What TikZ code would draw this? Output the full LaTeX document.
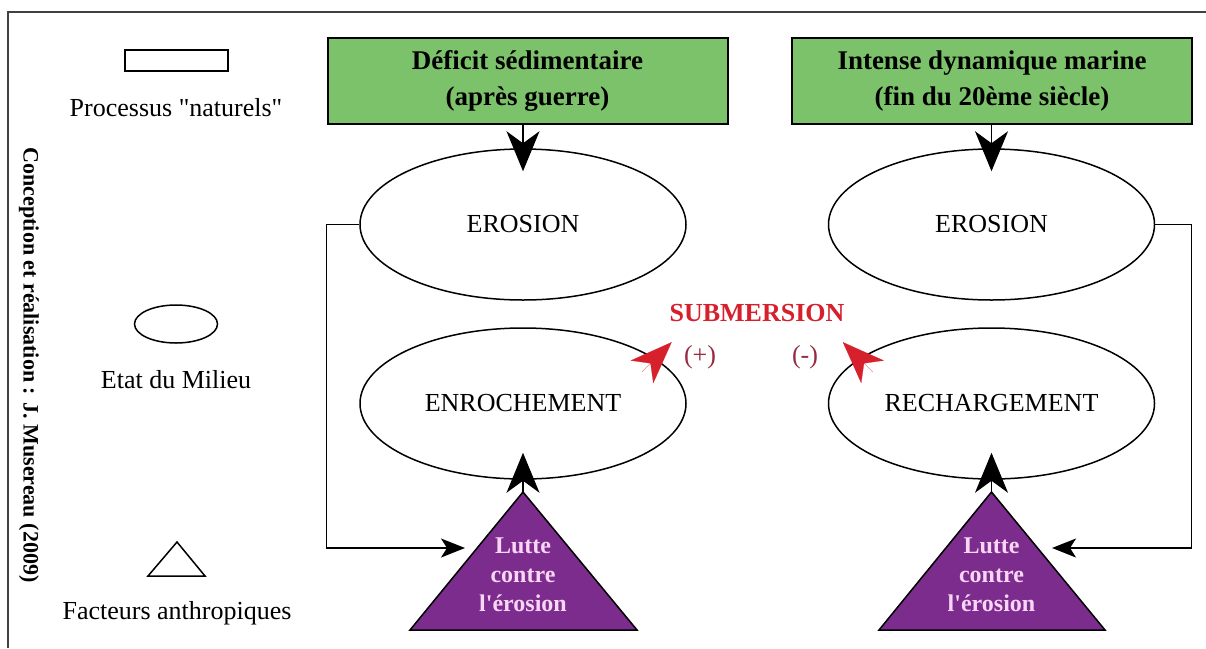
\documentclass[tikz,border=0pt]{standalone}
\usepackage{fontspec}
\setmainfont{Liberation Serif}[Ligatures=TeXOff]
\usetikzlibrary{arrows.meta,shapes.geometric}
\definecolor{vertproc}{RGB}{124,194,106}
\definecolor{violetanthro}{RGB}{123,44,140}
\definecolor{roselutte}{RGB}{250,214,246}
\definecolor{rougesub}{RGB}{214,32,44}
\definecolor{bordeaux}{RGB}{150,42,62}

\begin{document}
\begin{tikzpicture}[x=1pt,y=-1pt,
 proc/.style={draw,line width=2pt,fill=vertproc,minimum width=400pt,minimum height=86pt,align=center,font=\bfseries\fontsize{27}{36}\selectfont},
 etat/.style={draw,line width=1.5pt,ellipse,minimum width=326pt,minimum height=151pt,font=\fontsize{26}{30}\selectfont},
 anthro/.style={draw,line width=1.5pt,fill=violetanthro},
 lutte/.style={align=center,text=roselutte,font=\bfseries\fontsize{24}{29}\selectfont},
 legtxt/.style={font=\fontsize{26}{30}\selectfont},
 bigtip/.style={line width=1.5pt,-{Stealth[length=40pt,width=33pt,inset=12pt]}},
 smalltip/.style={line width=1.5pt,-{Stealth[length=24pt,width=19pt,inset=6pt]}},
 redtip/.style={draw=rougesub,line width=0.2pt,-{Stealth[length=42pt,width=32pt,inset=12pt,fill=rougesub]}},
 signe/.style={text=bordeaux,font=\fontsize{26}{30}\selectfont}]
 \useasboundingbox (0,0) rectangle (1206,648);
 \draw[line width=1.5pt,draw=black!75] (8,648) -- (8,12) -- (1206,12);
 % legende
 \node[draw,line width=1.5pt,minimum width=103pt,minimum height=21pt] (legProc) at (176.5,60.5) {};
 \node[legtxt] (legProcTxt) at (176,108) {Processus "naturels"};
 \node[draw,line width=1.5pt,ellipse,minimum width=83pt,minimum height=38pt] (legEtat) at (176,324) {};
 \node[legtxt] (legEtatTxt) at (176,380) {Etat du Milieu};
 \coordinate (legT-top) at (177,542); \coordinate (legT-l) at (148,576); \coordinate (legT-r) at (205,576);
 \draw[line width=1.5pt] (legT-top) -- (legT-l) -- (legT-r) -- cycle;
 \node[legtxt] (legAnthroTxt) at (177,613) {Facteurs anthropiques};
 \node[rotate=-90,font=\bfseries\fontsize{22}{26}\selectfont] (credit) at (29,365) {Conception et réalisation : J. Musereau (2009)};
 % processus
 \node[proc] (boxL) at (527.5,81) {Déficit sédimentaire\\(après guerre)};
 \node[proc] (boxR) at (992,81) {Intense dynamique marine\\(fin du 20ème siècle)};
 % etats du milieu
 \node[etat] (eroL) at (523,224.5) {EROSION};
 \node[etat] (enrL) at (523,403.5) {ENROCHEMENT};
 \node[etat] (eroR) at (991.5,224.5) {EROSION};
 \node[etat] (recR) at (991.5,403.5) {RECHARGEMENT};
 % facteurs anthropiques
 \coordinate (triL-top) at (523,492); \coordinate (triL-l) at (410,630); \coordinate (triL-r) at (637,630);
 \draw[anthro] (triL-top) -- (triL-l) -- (triL-r) -- cycle;
 \node[lutte] (lutL) at (523,575) {Lutte\\contre\\l'érosion};
 \coordinate (triR-top) at (991.5,492); \coordinate (triR-l) at (879,630); \coordinate (triR-r) at (1105,630);
 \draw[anthro] (triR-top) -- (triR-l) -- (triR-r) -- cycle;
 \node[lutte] (lutR) at (991.5,575) {Lutte\\contre\\l'érosion};
 % fleches
 \draw[bigtip] (eroL.north |- boxL.south) -- ([yshift=-23pt]eroL.north);
 \draw[bigtip] (eroR.north |- boxR.south) -- ([yshift=-23pt]eroR.north);
 \draw[bigtip] (triL-top) -- ([yshift=27pt]enrL.south);
 \draw[bigtip] (triR-top) -- ([yshift=27pt]recR.south);
 \coordinate (inL) at (465,548); \coordinate (inR) at (1052,548);
 \draw[smalltip] (eroL.west) -- ++(-33,0) |- (inL);
 \draw[smalltip] (eroR.east) -- ++(36,0) |- (inR);
 % submersion
 \node[text=rougesub,font=\bfseries\fontsize{26}{30}\selectfont] (sub) at (757,313) {SUBMERSION};
 \node[signe] (plus) at (700,357) {(+)};
 \node[signe] (moins) at (805,357) {(-)};
 \draw[redtip] ([shift={(-13pt,-14pt)}]enrL.19) -- ([shift={(17pt,16pt)}]enrL.19);
 \draw[redtip] ([shift={(13pt,-14pt)}]recR.161) -- ([shift={(-17pt,16pt)}]recR.161);
\end{tikzpicture}
\end{document}
